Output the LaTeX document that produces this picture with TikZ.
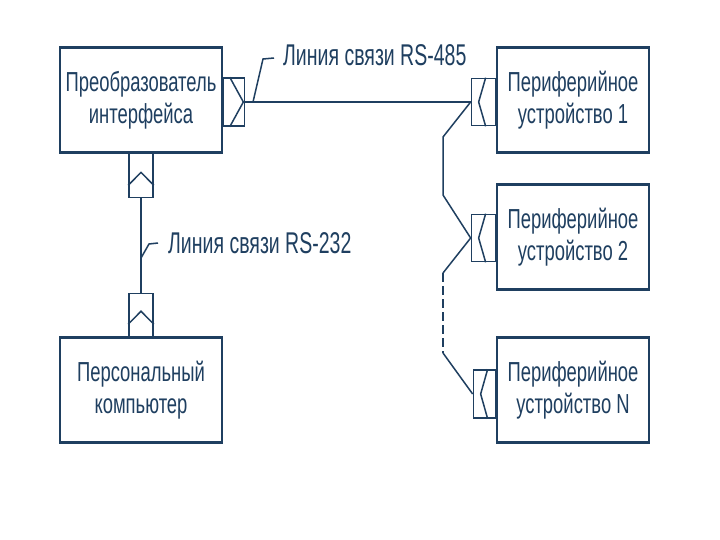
\documentclass[tikz,border=0pt]{standalone}
\usepackage{fontspec}
\setmainfont{Liberation Sans}[FakeStretch=0.67]
\newfontfamily\podpisfont{Liberation Sans}[FakeStretch=0.65]
\usetikzlibrary{calc}

\definecolor{ink}{HTML}{1F3F60}

\tikzset{
  blok/.style={draw=ink, line width=1.5pt, fill=white, minimum width=162pt,
    minimum height=104pt, align=center, text=ink, inner sep=0pt,
    font=\fontsize{27.5}{32}\selectfont},
  razjem/.style={draw=ink, line width=1.6pt, inner sep=0pt},
  liniya/.style={draw=ink, line width=2.2pt},
  shina/.style={draw=ink, line width=1.5pt},
  podpis/.style={text=ink, inner sep=0pt, anchor=base west,
    font=\podpisfont\fontsize{30}{32}\selectfont},
}

\begin{document}
\begin{tikzpicture}[x=1pt, y=-1pt]
    \useasboundingbox[fill=white] (0,0) rectangle (720,540);

    % Блоки
    \node[blok] (preobr) at (141,100) {Преобразователь\\интерфейса};
    \node[blok] (pk) at (141,390) {Персональный\\компьютер};
    \node[blok, minimum width=152pt] (ust1) at (573,100) {Периферийное\\устройство 1};
    \node[blok, minimum width=152pt] (ust2) at (573,237) {Периферийное\\устройство 2};
    \node[blok, minimum width=152pt] (ustN) at (573,390) {Периферийное\\устройство N};
    \foreach \b in {preobr, pk, ust1, ust2, ustN} {
        \draw[ink, line width=3.2pt] (\b.north west) -- (\b.north east);
        \draw[ink, line width=3pt] (\b.south west) -- (\b.south east);
    }

    % Разъёмы
    \node[razjem, minimum width=21pt, minimum height=48pt, anchor=west] (preobrR) at ($(preobr.east)+(0,2)$) {};
    \node[razjem, minimum width=24pt, minimum height=44pt, anchor=north] (preobrB) at (preobr.south) {};
    \node[razjem, minimum width=24pt, minimum height=43pt, anchor=south] (pkT) at (pk.north) {};
    \node[razjem, minimum width=24pt, minimum height=47pt, anchor=east] (ust1L) at ($(ust1.west)+(0,2)$) {};
    \node[razjem, minimum width=24pt, minimum height=47pt, anchor=east] (ust2L) at ($(ust2.west)+(0,1)$) {};
    \node[razjem, minimum width=22pt, minimum height=48pt, anchor=east] (ustNL) at ($(ustN.west)+(0,4)$) {};

    \draw[shina] ($(preobrR.north west)+(7,0)$) -- ($(preobrR.east)+(-2,0)$) -- ($(preobrR.south west)+(7,0)$);
    \foreach \r in {preobrB, pkT}
        \draw[shina] ($(\r.south west)+(0,-13)$) -- ($(\r.south)+(0,-26)$) -- ($(\r.south east)+(0,-13)$);
    \foreach \r in {ust1L, ust2L, ustNL}
        \draw[shina] ($(\r.north west)+(15,0)$) -- ($(\r.west)+(8,0)$) -- ($(\r.south west)+(15,0)$);

    % Линии связи
    \draw[liniya] (preobrR.east) -- (ust1L.west);
    \draw[liniya] (preobrB.south) -- (pkT.north);

    % Шина RS-485
    \coordinate (b1) at (443,137);
    \coordinate (b2) at (443,195);
    \coordinate (b3) at (443,273);
    \coordinate (b4) at (443,353);
    \draw[shina] (ust1L.west) -- (b1) -- (b2) -- (ust2L.west) -- (b3);
    \draw[shina, dash pattern=on 9pt off 4pt] (b3) -- (b4);
    \draw[shina] (b4) -- (ustNL.west);

    % Подписи
    \node[podpis] (sv485) at (283,66) {Линия связи RS-485};
    \node[podpis] (sv232) at (168,254) {Линия связи RS-232};
    \coordinate (k485) at (253,102);
    \coordinate (k232) at (141,258);
    \draw[shina] (k485) -- ++(10,-43) -- ++(11,-1);
    \draw[shina] (k232) -- ++(8,-14) -- ++(9,-1);
\end{tikzpicture}
\end{document}
